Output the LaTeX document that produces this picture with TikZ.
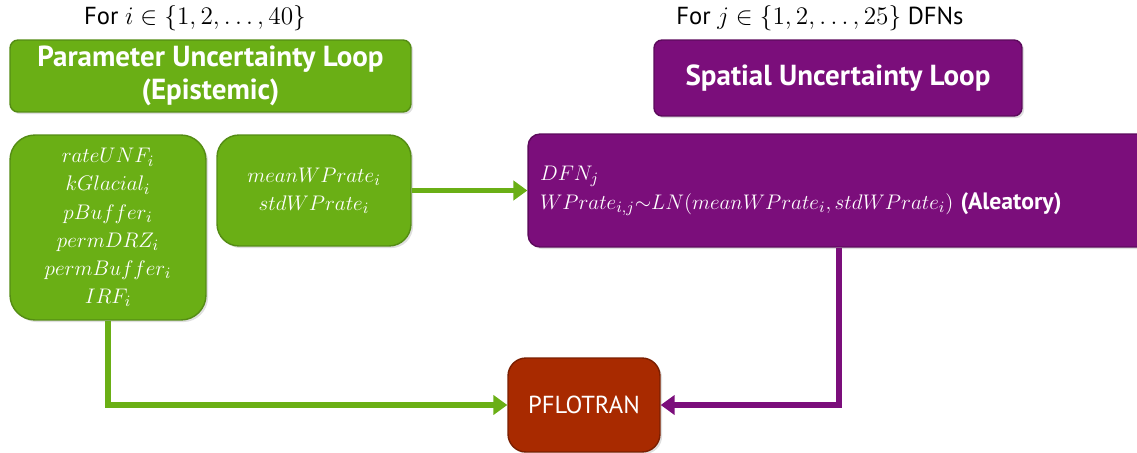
\documentclass[tikz,border=0pt]{standalone}
\usepackage{fontspec}
\setmainfont{PT Sans}
\usetikzlibrary{arrows.meta,shadows}

\definecolor{loopgreen}{RGB}{106,175,21}
\definecolor{loopgreenline}{RGB}{84,140,20}
\definecolor{looppurple}{RGB}{123,14,123}
\definecolor{looppurpleline}{RGB}{92,10,92}
\definecolor{solverred}{RGB}{168,42,0}
\definecolor{solverredline}{RGB}{122,30,0}

\begin{document}
\begin{tikzpicture}[x=0.02cm,y=-0.02cm]
        \tikzstyle{shade}=[drop shadow={opacity=0.25,shadow xshift=1.2pt,shadow yshift=-1.2pt}]
        \tikzstyle{gbox}=[draw=loopgreenline,fill=loopgreen,text=white,line width=0.8pt,shade,inner sep=0pt]
        \tikzstyle{pbox}=[draw=looppurpleline,fill=looppurple,text=white,line width=0.8pt,shade,inner sep=0pt]
        \tikzstyle{title}=[font=\fontsize{16.5}{18.5}\selectfont\bfseries,align=center]
        \tikzstyle{vars}=[font=\fontsize{13}{16}\selectfont,align=center]
        \tikzstyle{loopfor}=[font=\fontsize{14}{16}\selectfont]
        \tikzstyle{garrow}=[draw=loopgreen,line width=3.4pt,-{Triangle[length=8pt,width=11pt]}]
        \tikzstyle{parrow}=[draw=looppurple,line width=3.4pt,-{Triangle[length=8pt,width=11pt]}]
        \useasboundingbox (0,0) rectangle (1137,453);

        % outer loop over the parameter samples
        \node[loopfor] (forI) at (195,18) {For $i \in \{1,2,\ldots,40\}$};
        \node[gbox,title,rounded corners=0.16cm,minimum width=8.02cm,minimum height=1.44cm]
                (paramLoop) at (210.5,76) {Parameter Uncertainty Loop\\(Epistemic)};
        \node[gbox,vars,rounded corners=0.5cm,minimum width=3.92cm,minimum height=3.7cm]
                (paramList) at (108,227.5) {$rateUNF_i$\\$kGlacial_i$\\$pBuffer_i$\\$permDRZ_i$\\$permBuffer_i$\\$IRF_i$};
        \node[gbox,vars,rounded corners=0.44cm,minimum width=3.88cm,minimum height=2.22cm]
                (wpStats) at (314,190.5) {$meanWPrate_i$\\$stdWPrate_i$};

        % inner loop over the fracture networks
        \node[loopfor] (forJ) at (820,18) {For $j \in \{1,2,\ldots,25\}$ DFNs};
        \node[pbox,title,rounded corners=0.16cm,minimum width=7.36cm,minimum height=1.52cm]
                (spatialLoop) at (838,78) {Spatial Uncertainty Loop};
        \node[pbox,vars,font=\fontsize{12.5}{16.5}\selectfont,align=left,rounded corners=0.24cm,
                minimum width=12.44cm,minimum height=2.26cm,text width=11.96cm,inner xsep=0.24cm]
                (dfnBox) at (839,190.5) {$DFN_j$\\$WPrate_{i,j}{\sim}LN(meanWPrate_i,stdWPrate_i)$ {\fontsize{13.5}{16}\selectfont\bfseries(Aleatory)}};

        % flow and transport run
        \node[draw=solverredline,fill=solverred,text=white,line width=0.8pt,shade,rounded corners=0.36cm,
                minimum width=3.04cm,minimum height=1.88cm,font=\fontsize{14}{16}\selectfont]
                (pflotran) at (584,405) {PFLOTRAN};

        \draw[garrow] (wpStats.east) -- (dfnBox.west);
        \draw[garrow] (paramList.south) |- (pflotran.west);
        \draw[parrow] (dfnBox.south) |- (pflotran.east);
\end{tikzpicture}
\end{document}
